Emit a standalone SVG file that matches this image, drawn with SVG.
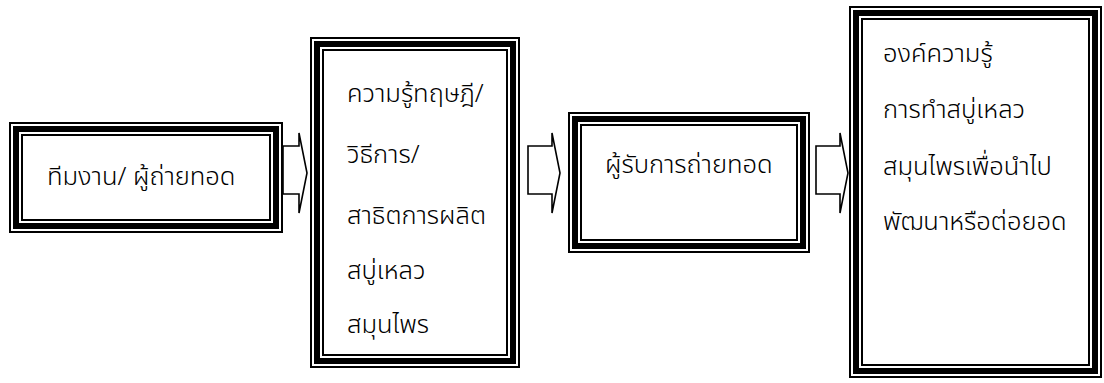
<svg xmlns="http://www.w3.org/2000/svg" width="1104" height="383" viewBox="0 0 1104 383">
<style>
.o{fill:none;stroke:#000;stroke-width:2}
.t{fill:none;stroke:#000;stroke-width:6}
.i{fill:none;stroke:#000;stroke-width:2}
.bg{fill:#fff;stroke:none}
.arr{fill:#fff;stroke:#000;stroke-width:1.6;stroke-linejoin:miter}
text{font-family:"Noto Sans Thai","Noto Sans","DejaVu Sans",sans-serif;font-size:25.5px;font-weight:300;fill:#000}
</style>
<rect x="0" y="0" width="1104" height="383" fill="#fff"/>
<g id="connectors">
<polygon class="arr" points="283,146 299,146 299,133 307,173 299,213 299,194 283,194"/>
<polygon class="arr" points="528,146 552,146 552,133 560,173 552,213 552,194 528,194"/>
<polygon class="arr" points="816,146 840,146 840,133 848,173 840,213 840,194 816,194"/>
</g>
<g id="node1">
<rect class="bg" x="9" y="122" width="274" height="111"/>
<rect class="o" x="10" y="123" width="272" height="109"/>
<rect class="t" x="16" y="129" width="260" height="97"/>
<rect class="i" x="22" y="135" width="248" height="85"/>
<text x="47" y="185">ทีมงาน/ ผู้ถ่ายทอด</text>
</g>
<g id="node2">
<rect class="bg" x="310" y="37" width="210" height="331"/>
<rect class="o" x="311" y="38" width="208" height="329"/>
<rect class="t" x="317" y="44" width="196" height="317"/>
<rect class="i" x="323" y="50" width="184" height="305"/>
<text x="347" y="102">ความรู้ทฤษฎี/</text>
<text x="347" y="163">วิธีการ/</text>
<text x="347" y="224">สาธิตการผลิต</text>
<text x="347" y="279">สบู่เหลว</text>
<text x="347" y="333">สมุนไพร</text>
</g>
<g id="node3">
<rect class="bg" x="568" y="112" width="242" height="141"/>
<rect class="o" x="569" y="113" width="240" height="139"/>
<rect class="t" x="575" y="119" width="228" height="127"/>
<rect class="i" x="581" y="125" width="216" height="115"/>
<text x="605" y="173">ผู้รับการถ่ายทอด</text>
</g>
<g id="node4">
<rect class="bg" x="849" y="6" width="253" height="372"/>
<rect class="o" x="850" y="7" width="251" height="370"/>
<rect class="t" x="856" y="13" width="239" height="358"/>
<rect class="i" x="862" y="19" width="227" height="346"/>
<text x="883" y="62">องค์ความรู้</text>
<text x="883" y="118">การทำสบู่เหลว</text>
<text x="883" y="175">สมุนไพรเพื่อนำไป</text>
<text x="883" y="230">พัฒนาหรือต่อยอด</text>
</g>
</svg>
